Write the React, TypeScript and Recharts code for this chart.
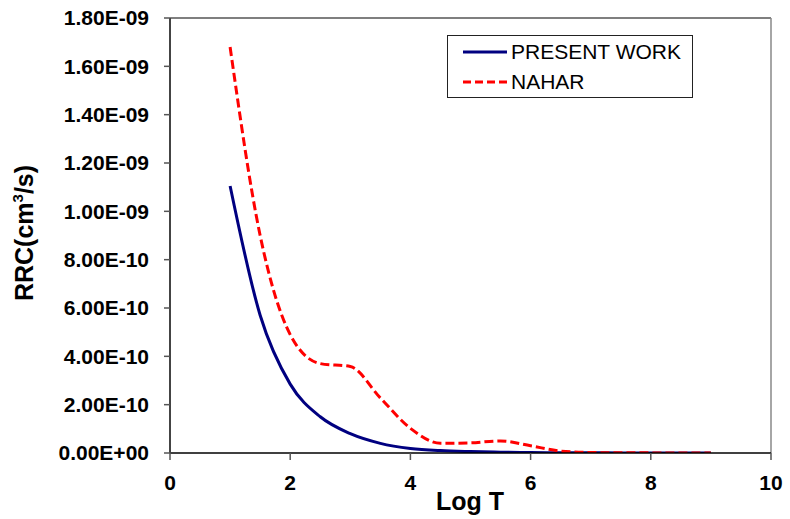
import React from 'react';
import { LineChart, Line, XAxis, YAxis, ReferenceLine, Label } from 'recharts';

const logT = [1, 1.5, 2, 2.5, 3, 3.5, 4, 4.5, 5, 5.5, 6, 6.5, 7, 7.5, 8, 8.5, 9];
const presentWork = [
  1.105e-9, 0.57e-9, 0.285e-9, 0.15e-9, 0.08e-9, 0.04e-9, 0.019e-9, 0.01e-9, 0.006e-9,
  0.0035e-9, 0.002e-9, 0.0012e-9, 0.0007e-9, 0.0004e-9, 0.0002e-9, 0.0001e-9, 0.00005e-9,
];
const nahar = [
  1.68e-9, 0.9e-9, 0.49e-9, 0.37e-9, 0.358e-9, 0.228e-9, 0.102e-9, 0.04e-9, 0.042e-9,
  0.05e-9, 0.03e-9, 0.008e-9, 0.002e-9, 0.001e-9, 0.0005e-9, 0.0003e-9, 0.0002e-9,
];
const xTicks = [0, 2, 4, 6, 8, 10];
const yTicks = [0, 2e-10, 4e-10, 6e-10, 8e-10, 1e-9, 1.2e-9, 1.4e-9, 1.6e-9, 1.8e-9];

const data = logT.map((x, i) => ({ x, present: presentWork[i], nahar: nahar[i] }));

const FONT = '"Liberation Sans", Arial, sans-serif';

// Excel style scientific format, e.g. 1.80E-09
const sci = (v: number) => {
  if (v === 0) return '0.00E+00';
  const [m, e] = v.toExponential(2).split('e');
  const n = parseInt(e, 10);
  const sign = n < 0 ? '-' : '+';
  return `${m}E${sign}${String(Math.abs(n)).padStart(2, '0')}`;
};

const LegendBox = () => (
  <div
    style={{
      position: 'absolute',
      left: 447,
      top: 35,
      border: '1px solid #222',
      background: '#fff',
      width: 246,
      height: 63,
      fontFamily: FONT,
      fontSize: 21,
      color: '#000',
      boxSizing: 'border-box',
    }}
  >
    <div style={{ display: 'flex', alignItems: 'center', height: 30, paddingLeft: 14, paddingTop: 1 }}>
      <svg width={46} height={6}>
        <line x1={1} y1={3} x2={45} y2={3} stroke="#000080" strokeWidth={3} />
      </svg>
      <span style={{ marginLeft: 3 }}>PRESENT WORK</span>
    </div>
    <div style={{ display: 'flex', alignItems: 'center', height: 30, paddingLeft: 14 }}>
      <svg width={46} height={6}>
        <line x1={1} y1={3} x2={45} y2={3} stroke="#ff0000" strokeWidth={3} strokeDasharray="8 4" />
      </svg>
      <span style={{ marginLeft: 3 }}>NAHAR</span>
    </div>
  </div>
);

const YTitle = () => (
  <text
    transform="translate(33, 233) rotate(-90)"
    textAnchor="middle"
    fontFamily={FONT}
    fontWeight="bold"
    fontSize={25}
    fill="#000"
  >
    RRC(cm
    <tspan fontSize={15} dy={-10}>3</tspan>
    <tspan dy={10}>/s)</tspan>
  </text>
);

const XTitle = () => (
  <text
    x={470}
    y={510}
    textAnchor="middle"
    fontFamily={FONT}
    fontWeight="bold"
    fontSize={25}
    fill="#000"
  >
    Log T
  </text>
);

const App: React.FC = () => {
  return (
    <div style={{ position: 'absolute', left: 0, top: 0, width: 790, height: 519, background: '#fff' }}>
      <LineChart
        width={790}
        height={519}
        data={data}
        margin={{ top: 18, right: 19, bottom: 36, left: 0 }}
      >
        <XAxis
          dataKey="x"
          type="number"
          domain={[0, 10]}
          ticks={xTicks}
          height={30}
          allowDataOverflow
          axisLine={{ stroke: '#000', strokeWidth: 1.5 }}
          tickLine={{ stroke: '#555', strokeWidth: 1.5 }}
          tickSize={7}
          tickMargin={15}
          tick={{ fill: '#000', fontFamily: FONT, fontWeight: 'bold', fontSize: 21 }}
        >
          <Label content={() => <XTitle />} />
        </XAxis>
        <YAxis
          type="number"
          width={170}
          domain={[0, 1.8e-9]}
          ticks={yTicks}
          allowDataOverflow
          tickFormatter={sci}
          axisLine={{ stroke: '#444', strokeWidth: 2 }}
          tickLine={{ stroke: '#555', strokeWidth: 1.5 }}
          tickSize={6}
          tickMargin={15}
          tick={{ fill: '#000', fontFamily: FONT, fontWeight: 'bold', fontSize: 21 }}
        >
          <Label content={() => <YTitle />} />
        </YAxis>
        <ReferenceLine y={1.8e-9} stroke="#000" strokeWidth={1.2} />
        <ReferenceLine x={10} stroke="#888" strokeWidth={1.5} />
        <Line
          type="monotone"
          dataKey="present"
          name="PRESENT WORK"
          stroke="#000080"
          strokeWidth={3}
          dot={false}
          isAnimationActive={false}
        />
        <Line
          type="monotone"
          dataKey="nahar"
          name="NAHAR"
          stroke="#ff0000"
          strokeWidth={3}
          strokeDasharray="9 4"
          dot={false}
          isAnimationActive={false}
        />
      </LineChart>
      <LegendBox />
    </div>
  );
};

export default App;
